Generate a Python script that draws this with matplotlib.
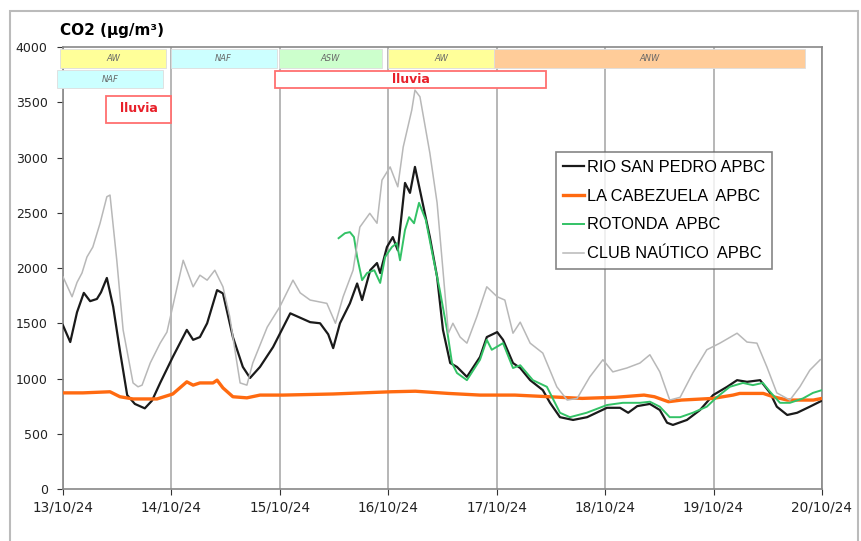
import matplotlib
matplotlib.use("Agg")
import matplotlib.pyplot as plt
from matplotlib.patches import Rectangle

# hours since 13/10/24 00:00 and CO2 values
rsp_h = [0, 1.6, 3.1, 4.6, 6.0, 7.5, 8.4, 9.7, 11.1, 12.6, 14.2, 15.9, 18.1, 19.7, 21.5,
         24.3, 27.4, 28.8, 30.3, 31.9, 34.1, 35.4, 37.6, 39.8, 41.4, 43.6, 46.5, 50.3,
         52.5, 54.7, 56.9, 58.7, 59.8, 61.3, 63.5, 65.1, 66.2, 68.0, 69.5, 70.2, 71.7,
         73.0, 74.1, 75.7, 76.8, 77.9, 79.0, 81.2, 82.8, 84.1, 85.7, 87.2, 89.4, 92.3,
         93.8, 96.1, 97.4, 99.6, 101.2, 103.4, 106.2, 107.8, 110.0, 112.9, 116.0, 120.4,
         123.3, 125.1, 127.1, 129.9, 132.1, 133.7, 135.0, 138.1, 141.0, 143.9, 147.0,
         149.2, 151.4, 154.3, 156.5, 158.0, 160.3, 162.5, 165.3, 168.0]
rsp_v = [1480, 1330, 1600, 1775, 1700, 1720, 1780, 1910, 1650, 1250, 850, 770, 730, 800, 960,
         1195, 1440, 1350, 1375, 1500, 1800, 1770, 1375, 1105, 1005, 1105, 1285, 1590,
         1550, 1510, 1500, 1400, 1275, 1500, 1680, 1860, 1710, 1980, 2045, 1955, 2190,
         2280, 2160, 2770, 2680, 2915, 2705, 2280, 1920, 1440, 1140, 1105, 1015, 1195,
         1375, 1420, 1350, 1140, 1095, 985, 895, 780, 650, 625, 650, 735,
         735, 690, 750, 770, 715, 600, 580, 625, 715, 850, 925,
         985, 970, 985, 870, 745, 670, 690, 745, 800]

cab_h = [0, 4.4, 10.4, 12.6, 15.5, 20.8, 24.3, 27.4, 28.8, 30.3, 33.2, 34.1, 35.4, 37.6,
         40.7, 43.6, 48.7, 59.8, 72.6, 78.0, 85.3, 92.3, 100.0, 107.6, 114.9, 122.3,
         128.6, 130.9, 134.0, 136.9, 143.9, 148.3, 149.8, 155.0, 157.2, 160.3, 166.1, 168.0]
cab_v = [870, 870, 880, 835, 815, 815, 860, 970, 940, 960, 960, 985, 915, 835,
         825, 850, 850, 860, 880, 885, 865, 850, 850, 835, 820, 830,
         850, 835, 790, 805, 820, 850, 865, 865, 835, 805, 805, 820]

rot_h = [61.0, 62.4, 63.5, 64.4, 65.1, 66.2, 67.3, 68.9, 70.2, 71.3, 72.8, 73.9, 74.6,
         75.7, 76.6, 77.7, 78.8, 80.3, 81.9, 83.4, 85.0, 86.1, 87.2, 89.4, 92.3, 93.8,
         94.9, 97.4, 99.6, 101.2, 104.0, 107.1, 110.0, 112.2, 115.9, 120.4, 123.9,
         127.7, 129.9, 132.1, 134.3, 136.6, 139.4, 142.5, 144.7, 147.6, 150.5, 152.7,
         154.9, 156.5, 158.7, 160.9, 163.8, 166.0, 168.0]
rot_v = [2270, 2315, 2325, 2280, 2100, 1890, 1955, 1980, 1865, 2100, 2190, 2225, 2070,
         2345, 2460, 2405, 2590, 2435, 2100, 1800, 1440, 1140, 1050, 985, 1170, 1350,
         1260, 1320, 1095, 1120, 985, 925, 690, 650, 690, 760, 780,
         780, 790, 745, 650, 650, 690, 745, 830, 925, 960, 940,
         960, 880, 780, 780, 820, 870, 895]

cn_h = [0, 2.0, 3.1, 4.2, 5.3, 6.6, 8.2, 9.7, 10.4, 11.9, 13.3, 15.5, 16.6, 17.5, 19.3,
        21.5, 23.0, 26.6, 28.8, 30.3, 31.9, 33.6, 35.4, 36.9, 38.5, 39.2, 40.7, 42.0,
        45.2, 48.0, 50.9, 52.5, 54.7, 58.4, 60.3, 62.0, 64.2, 65.7, 67.9, 69.5, 70.6,
        72.4, 74.1, 75.3, 77.2, 77.9, 79.0, 81.2, 82.8, 84.1, 85.3, 86.3, 87.9, 89.4,
        91.6, 93.8, 96.1, 97.8, 99.6, 101.2, 103.4, 106.2, 109.3, 111.6, 113.8, 116.6,
        119.5, 121.7, 124.8, 127.7, 129.9, 132.1, 134.3, 136.6, 139.4, 142.5, 145.4,
        149.2, 151.4, 153.6, 155.8, 158.0, 160.9, 163.1, 165.3, 167.6]
cn_v = [1920, 1740, 1870, 1955, 2100, 2190, 2405, 2645, 2660, 2070, 1440, 960, 925, 940, 1140,
        1320, 1420, 2070, 1830, 1935, 1890, 1980, 1830, 1560, 1140, 960, 940, 1140,
        1465, 1650, 1890, 1775, 1710, 1680, 1500, 1740, 1980, 2370, 2495, 2405, 2795,
        2915, 2735, 3095, 3430, 3610, 3550, 3040, 2590, 1980, 1410, 1500, 1375, 1320,
        1560, 1830, 1740, 1710, 1410, 1510, 1320, 1230, 925, 805, 820, 1015,
        1170, 1060, 1095, 1140, 1215, 1060, 805, 830, 1050, 1260, 1320,
        1410, 1330, 1320, 1105, 870, 805, 925, 1075, 1170]

series = [
    ("RIO SAN PEDRO APBC", rsp_h, rsp_v, "#1a1a1a", 1.6),
    ("LA CABEZUELA  APBC", cab_h, cab_v, "#ff6a10", 2.4),
    ("ROTONDA  APBC", rot_h, rot_v, "#33c266", 1.4),
    ("CLUB NAÚTICO  APBC", cn_h, cn_v, "#b8b8b8", 1.1),
]

day_labels = ["13/10/24", "14/10/24", "15/10/24", "16/10/24",
              "17/10/24", "18/10/24", "19/10/24", "20/10/24"]

# air mass bands: (start h, end h, label, colour, row)
bands = [
    (-0.7, 22.8, "AW", "#ffff99", 0),
    (23.8, 47.3, "NAF", "#ccffff", 0),
    (47.8, 70.6, "ASW", "#ccffcc", 0),
    (72.0, 95.3, "AW", "#ffff99", 0),
    (95.3, 164.2, "ANW", "#ffcc99", 0),
    (-1.3, 22.1, "NAF", "#ccffff", 1),
]
rain = [
    (46.9, 106.8, 3625, 3785),
    (9.6, 24.0, 3315, 3560),
]

fig = plt.figure(figsize=(8.61, 5.41), dpi=100)
ax = fig.add_axes([0.0732, 0.0961, 0.8815, 0.817])

for name, h, v, c, lw in series:
    ax.plot(h, v, color=c, lw=lw, label=name, zorder=3)

ax.set_xlim(0, 168)
ax.set_ylim(0, 4000)
ax.set_xticks(range(0, 169, 24))
ax.set_xticklabels(day_labels)
ax.set_yticks(range(0, 4001, 500))
ax.tick_params(colors="#333333", length=4, width=0.8)
ax.tick_params(axis="x", labelsize=9.8, pad=4)
ax.tick_params(axis="y", labelsize=9, pad=7)
for tl in ax.get_xticklabels() + ax.get_yticklabels():
    tl.set_color("#222222")
ax.grid(axis="x", color="#aaaaaa", lw=1.2)
ax.set_axisbelow(True)
for s in ax.spines.values():
    s.set_color("#888888")
    s.set_linewidth(1.2)

row_y = [(3810, 3985), (3625, 3790)]
for x0, x1, lab, col, row in bands:
    y0, y1 = row_y[row]
    ax.add_patch(Rectangle((x0, y0), x1 - x0, y1 - y0, facecolor=col,
                           edgecolor="#dddddd", lw=0.6, zorder=4, clip_on=False))
    ax.text((x0 + x1) / 2, (y0 + y1) / 2, lab, fontsize=6, style="italic",
            color="#666666", ha="center", va="center", zorder=5, clip_on=False)

for x0, x1, y0, y1 in rain:
    ax.add_patch(Rectangle((x0, y0), x1 - x0, y1 - y0, facecolor="white",
                           edgecolor="#ff7070", lw=1.3, zorder=4, clip_on=False))
for x, y in [(77.0, 3705), (16.8, 3440)]:
    ax.text(x, y, "lluvia", fontsize=9, fontweight="bold", color="#e8202a",
            ha="center", va="center", zorder=6)

fig.text(0.0697, 0.944, "CO2 (µg/m³)", fontsize=11, fontweight="bold",
         ha="left", va="center")

leg = ax.legend(loc="upper left", bbox_to_anchor=(0.649, 0.762),
                prop={"family": "Liberation Sans", "size": 11.8}, frameon=True,
                fancybox=False, handlelength=1.3, handletextpad=0.15,
                labelspacing=0.85, borderpad=0.45, borderaxespad=0)
leg.get_frame().set_edgecolor("#666666")
leg.get_frame().set_linewidth(1.2)
leg.set_zorder(7)

fig.patches.append(Rectangle((10 / 861, -0.02), 848 / 861, 1.02 - 11 / 541,
                             transform=fig.transFigure, fill=False,
                             edgecolor="#bbbbbb", lw=1.5))

fig.savefig("out.png", dpi=100)
